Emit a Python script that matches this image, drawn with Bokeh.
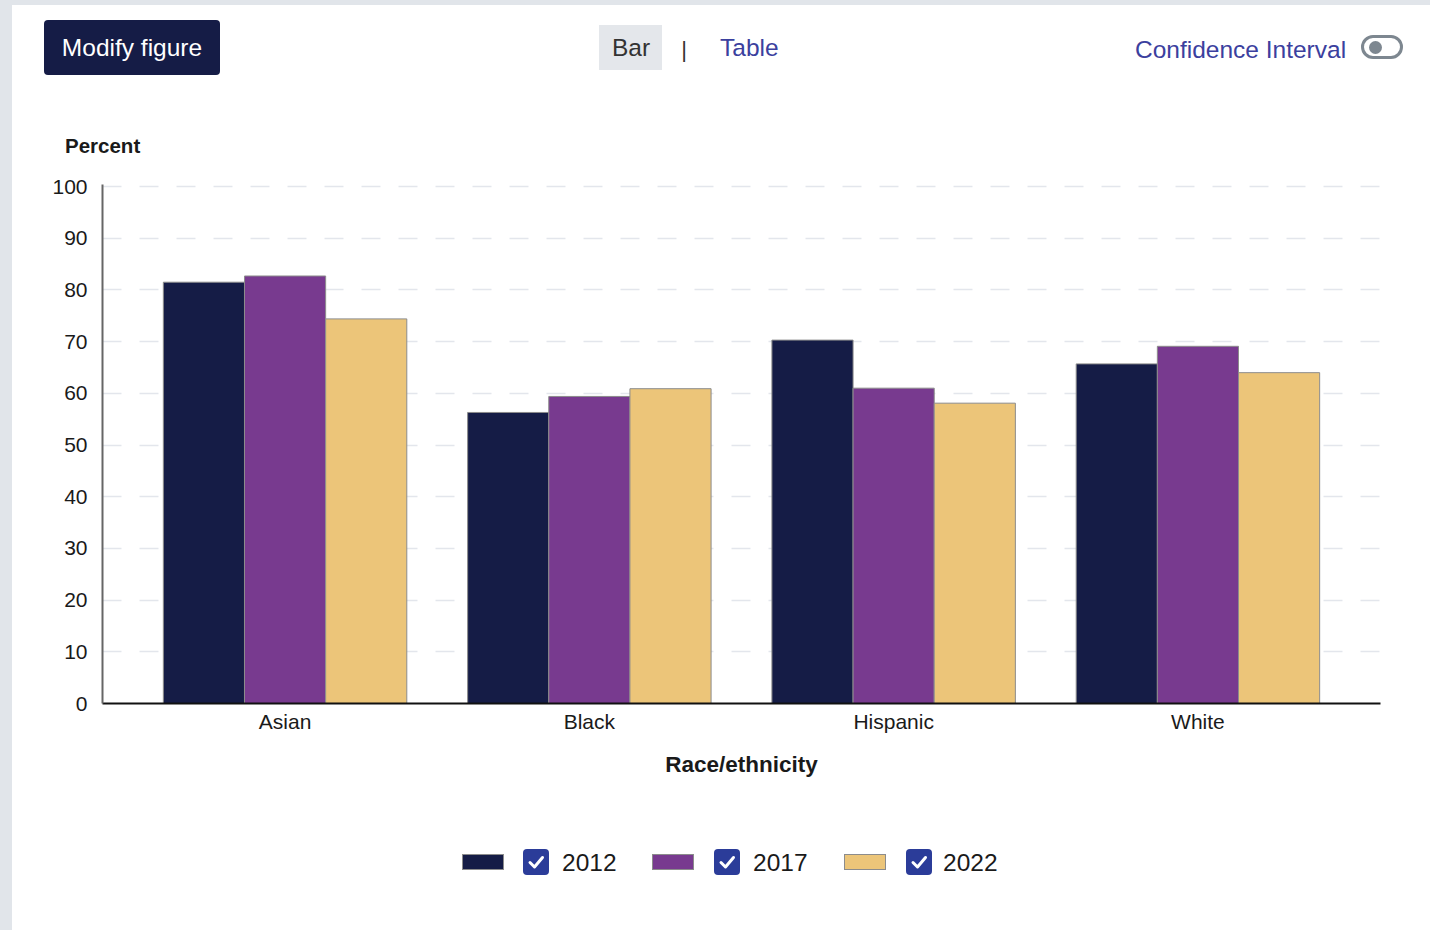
from bokeh.plotting import figure
from bokeh.models import Range1d, FixedTicker, ColumnDataSource, Div
from bokeh.layouts import column
from bokeh.transform import dodge
from bokeh.embed import file_html
from bokeh.resources import INLINE

# ---------------- data ----------------
categories = ["Asian", "Black", "Hispanic", "White"]
years = ["2012", "2017", "2022"]
values_2012 = [81.5, 56.3, 70.3, 65.7]
values_2017 = [82.7, 59.4, 61.0, 69.1]
values_2022 = [74.4, 60.9, 58.1, 64.0]
y_ticks = [0, 10, 20, 30, 40, 50, 60, 70, 80, 90, 100]

colors = ["#151c46", "#783a8f", "#ecc579"]
FONT = "Liberation Sans"
W = 1430
HEAD_H, MAIN_H, LEG_H = 165, 635, 130
FL, FR, FT, FB = 102, 1380, 184, 703   # frame edges on the page

# ---------------- main chart ----------------
cat_pos = list(range(len(categories)))
src = ColumnDataSource(dict(x=cat_pos, v2012=values_2012,
                            v2017=values_2017, v2022=values_2022))
p = figure(x_range=Range1d(-0.6, len(categories) - 0.4),
           y_range=Range1d(0, 100.4), width=W, height=MAIN_H,
           min_border_left=FL, min_border_right=W - FR,
           min_border_top=FT - HEAD_H,
           min_border_bottom=HEAD_H + MAIN_H - FB,
           output_backend="svg", toolbar_location=None)
p.outline_line_color = None
p.border_fill_alpha = 0
p.background_fill_color = "white"
p.toolbar.active_drag = None

bw = 0.2667
for i, (yr, col) in enumerate(zip(years, colors)):
    p.vbar(x=dodge("x", (i - 1) * bw), top="v" + yr,
           width=bw, source=src, fill_color=col, line_color="#8c8c8c",
           line_width=1)

p.xgrid.visible = False
p.ygrid.ticker = FixedTicker(ticks=y_ticks)
p.ygrid.grid_line_color = "#e3e6ec"
p.ygrid.grid_line_dash = "19 18"
p.ygrid.grid_line_width = 1.5

p.yaxis.ticker = FixedTicker(ticks=y_ticks)
p.yaxis.axis_line_color = "#666666"
p.yaxis.axis_line_width = 2
p.yaxis.major_tick_line_color = None
p.yaxis.minor_tick_line_color = None
p.yaxis.major_tick_out = 0
p.yaxis.major_label_standoff = 15
p.yaxis.major_label_text_font = FONT
p.yaxis.major_label_text_font_size = "21px"
p.yaxis.major_label_text_color = "#1a1a1a"

p.xaxis.ticker = FixedTicker(ticks=cat_pos)
p.xaxis.major_label_overrides = {i: c for i, c in zip(cat_pos, categories)}
p.xaxis.axis_line_color = "#111111"
p.xaxis.axis_line_width = 2
p.xaxis.major_tick_line_color = None
p.xaxis.minor_tick_line_color = None
p.xaxis.major_tick_out = 0
p.xaxis.major_label_standoff = 6
p.xaxis.major_label_text_font = FONT
p.xaxis.major_label_text_font_size = "21px"
p.xaxis.major_label_text_color = "#1a1a1a"
p.xaxis.axis_label = "Race/ethnicity"
p.xaxis.axis_label_text_font = FONT
p.xaxis.axis_label_text_font_size = "22.5px"
p.xaxis.axis_label_text_font_style = "bold"
p.xaxis.axis_label_text_color = "#1a1a1a"
p.xaxis.axis_label_standoff = 16


# ---------------- html helpers for header / legend ----------------
def box(l, t, w, h, bg, radius=0, border=None, inner=""):
    b = f"border:{border};" if border else ""
    return (f'<div style="position:absolute;left:{l}px;top:{t}px;'
            f'width:{w}px;height:{h}px;background:{bg};'
            f'border-radius:{radius}px;box-sizing:border-box;{b}'
            f'display:flex;align-items:center;justify-content:center;">'
            f'{inner}</div>')


def txt(x, cy, s, color="#1a1a1a", size=24.5, weight="normal",
        align="left"):
    lh = 32
    if align == "center":
        pos = f"left:{x - 150}px;width:300px;text-align:center;"
    else:
        pos = f"left:{x}px;white-space:nowrap;"
    return (f'<div style="position:absolute;{pos}top:{cy - lh / 2}px;'
            f'line-height:{lh}px;font-size:{size}px;font-weight:{weight};'
            f'color:{color};font-family:\'{FONT}\';">{s}</div>')


def container(h, inner):
    return (f'<div style="position:relative;width:{W}px;height:{h}px;'
            f'font-family:\'{FONT}\';">{inner}</div>')


head = "".join([
    box(44, 20, 176, 55, "#151c46", radius=4),
    txt(132, 48, "Modify figure", color="white", align="center"),
    box(599, 25, 63, 45, "#e4e7eb"),
    txt(631, 48, "Bar", color="#333333", align="center"),
    txt(684, 50, "|", color="#333333", size=22, align="center"),
    txt(720, 48, "Table", color="#3b409e"),
    txt(1135, 50, "Confidence Interval", color="#3b409e"),
    box(1361, 35, 42, 24, "white", radius=12, border="3px solid #7d8790"),
    box(1369, 41, 13, 13, "#7d8790", radius=7),
    txt(65, 146, "Percent", size=20.5, weight="bold"),
])
header = Div(text=container(HEAD_H, head), width=W, height=HEAD_H,
             margin=0)

check_svg = ('<svg width="26" height="26" viewBox="0 0 26 26">'
             '<polyline points="7,13.5 11.5,18 19.5,8.5" fill="none" '
             'stroke="white" stroke-width="3" stroke-linecap="round" '
             'stroke-linejoin="round"/></svg>')
sw_left = [462, 652, 844]
cb_left = [523, 714, 906]
tx_left = [562, 753, 943]
cy = 862 - (HEAD_H + MAIN_H)
leg = ""
for yr, col, sl, cl, tl in zip(years, colors, sw_left, cb_left, tx_left):
    leg += box(sl, cy - 8, 42, 16, col, border="1.5px solid #8c8c8c")
    leg += box(cl, cy - 13, 26, 26, "#2b3c99", radius=4, inner=check_svg)
    leg += txt(tl, cy + 1, yr, size=24.5)
legend = Div(text=container(LEG_H, leg), width=W, height=LEG_H, margin=0)

layout = column(header, p, legend, spacing=0, styles={
    "background": "linear-gradient(to bottom, #e1e5ea 5px, "
                  "transparent 5px), linear-gradient(to right, "
                  "#e1e5ea 12px, white 12px)"})

open("out.html", "w").write(file_html(layout, INLINE))
